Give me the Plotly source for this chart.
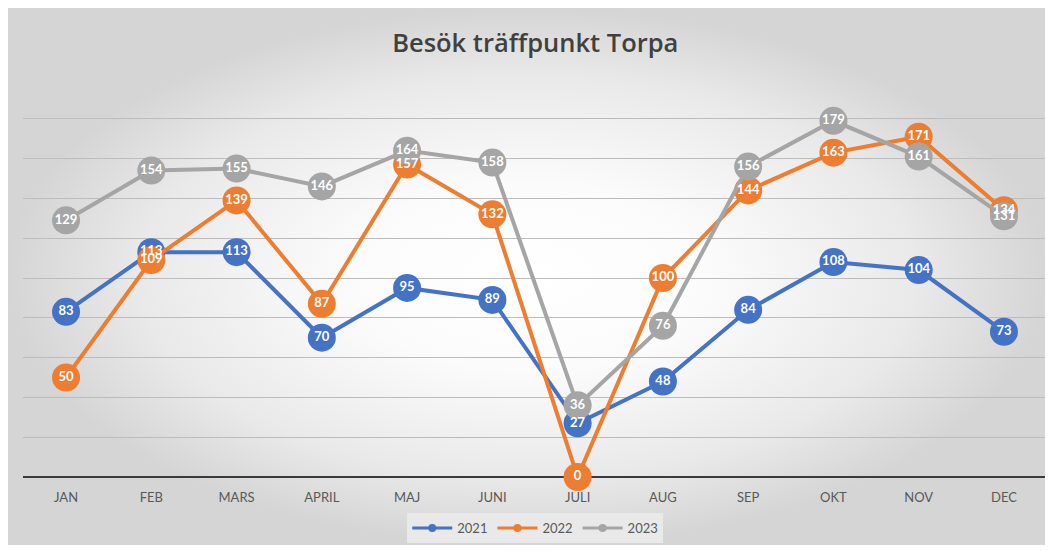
import plotly.graph_objects as go

months = ["JAN", "FEB", "MARS", "APRIL", "MAJ", "JUNI", "JULI", "AUG", "SEP", "OKT", "NOV", "DEC"]
v2021 = [83, 113, 113, 70, 95, 89, 27, 48, 84, 108, 104, 73]
v2022 = [50, 109, 139, 87, 157, 132, 0, 100, 144, 163, 171, 134]
v2023 = [129, 154, 155, 146, 164, 158, 36, 76, 156, 179, 161, 131]
series = [("2021", v2021, "#4472C4"), ("2022", v2022, "#ED7D31"), ("2023", v2023, "#A5A5A5")]

W, H = 1040, 537
fig = go.Figure()

# background radial gradient
fig.add_trace(go.Scatter(
    x=[0, 1, 1, 0, 0], y=[0, 0, 1, 1, 0], mode="lines", fill="toself",
    line=dict(width=0),
    fillgradient=dict(type="radial", colorscale=[[0, "#ffffff"], [0.35, "#fbfbfb"], [0.75, "#e9e9e9"], [1, "#d5d5d5"]]),
    hoverinfo="skip", showlegend=False, xaxis="x", yaxis="y"))

for name, vals, col in series:
    fig.add_trace(go.Scatter(
        x=months, y=vals, name=name, mode="lines+markers",
        line=dict(color=col, width=4),
        marker=dict(color=col, size=28),
        cliponaxis=False, showlegend=False, xaxis="x2", yaxis="y2"))

for name, vals, col in series:
    fig.add_trace(go.Scatter(
        x=months, y=vals, mode="text", text=[str(v) for v in vals],
        textfont=dict(color="white", size=13, family="Lato", weight="bold"),
        cliponaxis=False, showlegend=False, hoverinfo="skip", xaxis="x2", yaxis="y2"))

# legend entries with small markers
for name, vals, col in series:
    fig.add_trace(go.Scatter(
        x=[None], y=[None], name=name, mode="lines+markers",
        line=dict(color=col, width=3), marker=dict(color=col, size=8),
        xaxis="x2", yaxis="y2"))

fig.update_layout(
    width=W, height=H,
    margin=dict(l=0, r=0, t=0, b=0),
    paper_bgcolor="white", plot_bgcolor="rgba(0,0,0,0)",
    font=dict(family="Lato", color="#595959", size=13),
    title=dict(text="Besök träffpunkt Torpa", x=0.507, xanchor="center",
               y=1 - 35 / H, yanchor="middle", yref="container",
               font=dict(family="Open Sans", size=25.5, color="#404040", weight=600)),
    xaxis=dict(domain=[0, 1], range=[0, 1], visible=False, fixedrange=True),
    yaxis=dict(domain=[0, 1], range=[0, 1], visible=False, fixedrange=True),
    xaxis2=dict(domain=[15.4 / W, 1038.6 / W], anchor="y2", type="category",
                categoryorder="array", categoryarray=months, range=[-0.5, 11.5],
                showgrid=False, showline=False, ticks="outside", ticklen=8,
                tickcolor="rgba(0,0,0,0)", tickfont=dict(size=13, color="#595959")),
    yaxis2=dict(domain=[68 / H, 466 / H], anchor="x2", range=[0, 200], dtick=20,
                showgrid=True, gridcolor="#bcbcbc", gridwidth=1, showticklabels=False,
                zeroline=True, zerolinecolor="#3a3a3a", zerolinewidth=2, showline=False),
    legend=dict(orientation="h", x=0.507, xanchor="center", y=17 / H, yanchor="middle",
                bgcolor="#e9e9e9", font=dict(size=13, color="#595959"),
                itemwidth=40),
)

fig.write_html("out.html")
